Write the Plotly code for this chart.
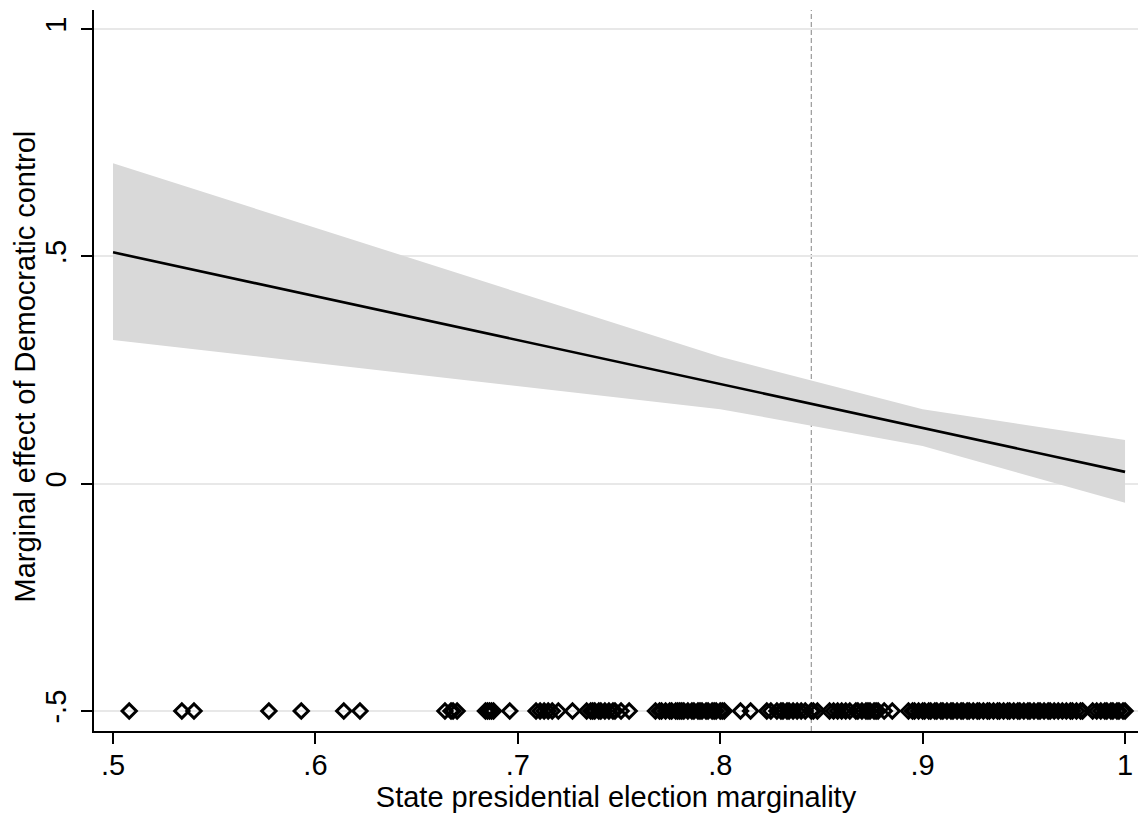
import plotly.graph_objects as go

# Marginal effect of Democratic control across state presidential marginality
margin_x = [0.5, 0.8, 0.9, 1.0]
effect = [0.509, 0.219, 0.123, 0.026]
ci_upper = [0.705, 0.279, 0.164, 0.096]
ci_lower = [0.316, 0.164, 0.083, -0.042]

# Observed marginality values (rug along the bottom)
rug_x = [
    0.508, 0.534, 0.540, 0.577, 0.593, 0.614, 0.622,
    0.664, 0.667, 0.668, 0.670, 0.684, 0.685, 0.686, 0.687, 0.688, 0.696,
    0.709, 0.711, 0.713, 0.715, 0.717, 0.720, 0.727, 0.734, 0.736, 0.737,
    0.738, 0.740, 0.741, 0.743, 0.745, 0.747, 0.748, 0.751, 0.755,
    0.768, 0.770, 0.771, 0.773, 0.775, 0.776, 0.778, 0.779, 0.780,
    0.781, 0.782, 0.784, 0.786, 0.787, 0.789, 0.790, 0.791, 0.793,
    0.794, 0.796, 0.797, 0.798, 0.800, 0.801, 0.802,
    0.810, 0.815, 0.823, 0.825, 0.828, 0.830, 0.831, 0.833, 0.834,
    0.836, 0.838, 0.840, 0.842, 0.845, 0.846, 0.848, 0.854, 0.856,
    0.858, 0.860, 0.862, 0.864, 0.867, 0.868, 0.870, 0.872, 0.873,
    0.874, 0.876, 0.877, 0.878, 0.881, 0.885,
    0.893, 0.895, 0.896, 0.898, 0.900, 0.901, 0.903, 0.904, 0.906,
    0.907, 0.909, 0.910, 0.912, 0.914, 0.915, 0.917, 0.919, 0.920,
    0.922, 0.923, 0.925, 0.927, 0.928, 0.930, 0.932, 0.933, 0.935,
    0.937, 0.938, 0.940, 0.942, 0.943, 0.945, 0.947, 0.948, 0.950,
    0.952, 0.953, 0.955, 0.957, 0.958, 0.960, 0.962, 0.963, 0.965,
    0.967, 0.969, 0.971, 0.973, 0.974, 0.976, 0.978, 0.979, 0.984,
    0.986, 0.988, 0.990, 0.991, 0.993, 0.994, 0.996, 0.997, 0.999, 1.000,
]
rug_level = -0.5
mean_marginality = 0.845

x_ticks = [0.5, 0.6, 0.7, 0.8, 0.9, 1.0]
x_ticktext = [".5", ".6", ".7", ".8", ".9", "1"]
y_ticks = [-0.5, 0, 0.5, 1]
y_ticktext = ["-.5", "0", ".5", "1"]

FONT = "Liberation Sans, Arial, sans-serif"

fig = go.Figure()

# Confidence band
fig.add_trace(go.Scatter(
    x=margin_x + margin_x[::-1],
    y=ci_upper + ci_lower[::-1],
    fill="toself", fillcolor="#d9d9d9",
    line=dict(width=0), mode="lines", hoverinfo="skip", showlegend=False,
))

# Point estimate
fig.add_trace(go.Scatter(
    x=margin_x, y=effect, mode="lines",
    line=dict(color="black", width=2.6), showlegend=False,
))

# Rug of observed values
fig.add_trace(go.Scatter(
    x=rug_x, y=[rug_level] * len(rug_x), mode="markers",
    marker=dict(symbol="diamond-open", size=11, color="black",
                line=dict(color="black", width=3)),
    showlegend=False, cliponaxis=False,
))

# Reference lines
fig.add_hline(y=0, line=dict(color="#9a9a9a", width=1.2, dash="5px,3px"), layer="below")
fig.add_vline(x=mean_marginality, line=dict(color="#9a9a9a", width=1.2, dash="5px,3px"),
              layer="below")

# Y-axis title placed as a rotated annotation
fig.add_annotation(
    text="Marginal effect of Democratic control",
    xref="paper", yref="paper", x=-0.0665, y=0.505,
    xanchor="center", yanchor="middle", textangle=-90,
    showarrow=False, font=dict(size=29),
)

fig.update_layout(
    width=1138, height=813,
    margin=dict(l=94, r=0, t=10, b=80),
    paper_bgcolor="white", plot_bgcolor="white",
    font=dict(family=FONT, size=29, color="black"),
    showlegend=False,
)

fig.update_xaxes(
    range=[0.4906, 1.0064],
    tickvals=x_ticks, ticktext=x_ticktext,
    ticks="outside", ticklen=11, tickwidth=1.5, tickcolor="black",
    ticklabelstandoff=-4,
    showline=True, linecolor="black", linewidth=1.5,
    showgrid=False, zeroline=False,
    title=dict(text="State presidential election marginality",
               font=dict(size=29), standoff=12),
)
fig.update_yaxes(
    range=[-0.544, 1.042],
    tickvals=y_ticks, ticktext=y_ticktext, tickangle=-90,
    ticks="outside", ticklen=11, tickwidth=1.5, tickcolor="black",
    ticklabelstandoff=4,
    showline=True, linecolor="black", linewidth=1.5,
    showgrid=True, gridcolor="#e8e8e8", gridwidth=2, zeroline=False,
)

fig.write_html("out.html")
